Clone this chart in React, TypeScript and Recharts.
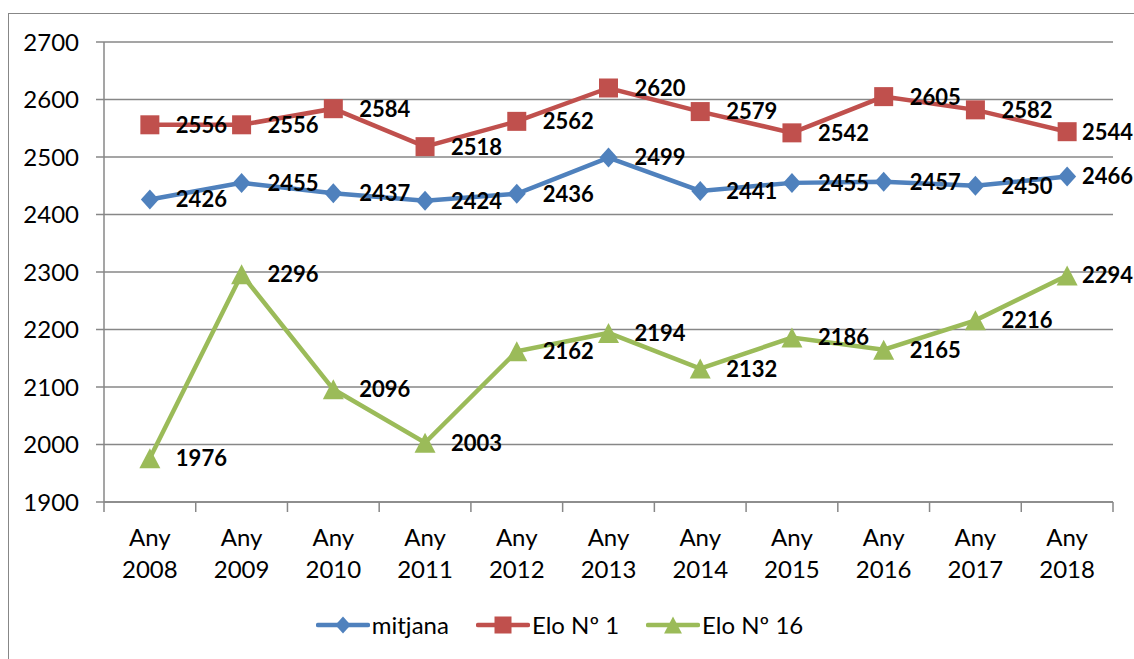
import React from 'react';
import { LineChart, Line, XAxis, YAxis, CartesianGrid, Legend, LabelList } from 'recharts';

const years = ['2008', '2009', '2010', '2011', '2012', '2013', '2014', '2015', '2016', '2017', '2018'];
const mitjana = [2426, 2455, 2437, 2424, 2436, 2499, 2441, 2455, 2457, 2450, 2466];
const elo1 = [2556, 2556, 2584, 2518, 2562, 2620, 2579, 2542, 2605, 2582, 2544];
const elo16 = [1976, 2296, 2096, 2003, 2162, 2194, 2132, 2186, 2165, 2216, 2294];
const yTicks = [1900, 2000, 2100, 2200, 2300, 2400, 2500, 2600, 2700];
const seriesOrder = ['mitjana', 'elo1', 'elo16'];

const data = years.map((year, i) => ({
  year,
  mitjana: mitjana[i],
  elo1: elo1[i],
  elo16: elo16[i],
}));

const BLUE = '#4F81BD';
const RED = '#C0504D';
const GREEN = '#9BBB59';
const GRID = '#878787';
const FONT = 'Lato, Calibri, sans-serif';

const W = 1134;
const H = 659;
const PLOT_LEFT = 104;
const PLOT_RIGHT = 1113;
const BAND = (PLOT_RIGHT - PLOT_LEFT) / years.length;

// marker shapes
const Diamond = ({ cx, cy, fill, s = 10 }: any) => (
  <polygon points={`${cx},${cy - s} ${cx + s * 0.9},${cy} ${cx},${cy + s} ${cx - s * 0.9},${cy}`} fill={fill} />
);
const Square = ({ cx, cy, fill, s = 9.5 }: any) => (
  <rect x={cx - s} y={cy - s} width={s * 2} height={s * 2} fill={fill} />
);
const Triangle = ({ cx, cy, fill, s = 10 }: any) => (
  <polygon points={`${cx},${cy - s} ${cx + s * 1.05},${cy + s} ${cx - s * 1.05},${cy + s}`} fill={fill} />
);

const shapes: Record<string, any> = { mitjana: Diamond, elo1: Square, elo16: Triangle };

const makeDot = (key: string, color: string) => (props: any) => {
  const Shape = shapes[key];
  if (props.cx == null || props.cy == null) return <g key={props.key} />;
  return (
    <g key={`${key}-${props.index}`}>
      <Shape cx={props.cx} cy={props.cy} fill={color} />
    </g>
  );
};

const valueLabel = (props: any) => {
  const { x, y, value, index } = props;
  // keep labels inside the chart on the right edge like Excel does
  const lx = Math.min(x + 26, W - 52);
  return (
    <text
      key={`lbl-${index}`}
      x={lx}
      y={y}
      dy="0.36em"
      textAnchor="start"
      fontFamily={FONT}
      fontSize={22}
      fontWeight="bold"
      fill="#000"
    >
      {value}
    </text>
  );
};

const YearTick = (props: any) => {
  const { x, y, payload, index } = props;
  return (
    <g>
      <line x1={x - BAND / 2} x2={x - BAND / 2} y1={y} y2={y + 10} stroke={GRID} strokeWidth={1.5} />
      {index === years.length - 1 && (
        <line x1={x + BAND / 2} x2={x + BAND / 2} y1={y} y2={y + 10} stroke={GRID} strokeWidth={1.5} />
      )}
      <text x={x} y={y + 44} textAnchor="middle" fontFamily={FONT} fontSize={24} fill="#000">
        Any
      </text>
      <text x={x} y={y + 76} textAnchor="middle" fontFamily={FONT} fontSize={24} fill="#000">
        {payload.value}
      </text>
    </g>
  );
};

const LegendContent = (props: any) => {
  const payload = [...(props.payload || [])].sort(
    (a: any, b: any) => seriesOrder.indexOf(a.dataKey) - seriesOrder.indexOf(b.dataKey)
  );
  return (
    <div style={{ display: 'flex', justifyContent: 'center', alignItems: 'center', paddingRight: 15 }}>
      {payload.map((item: any, i: number) => {
        const Shape = shapes[item.dataKey];
        return (
          <div
            key={item.dataKey}
            style={{ display: 'flex', alignItems: 'center', marginRight: i < payload.length - 1 ? 27 : 0 }}
          >
            <svg width={54} height={24}>
              <line x1={2} x2={52} y1={12} y2={12} stroke={item.color} strokeWidth={4.5} strokeLinecap="round" />
              <Shape cx={27} cy={12} fill={item.color} s={8.5} />
            </svg>
            <span style={{ fontFamily: FONT, fontSize: 24, color: '#000', marginLeft: 2 }}>{item.value}</span>
          </div>
        );
      })}
    </div>
  );
};

export default function App() {
  return (
    <div style={{ position: 'absolute', left: 0, top: 0, width: W, height: H, background: '#fff', overflow: 'hidden' }}>
      <div
        style={{
          position: 'absolute',
          left: 8,
          top: 13,
          width: W + 20,
          height: H + 20,
          border: `1px solid ${GRID}`,
        }}
      />
      <LineChart
        width={W}
        height={H}
        data={data}
        margin={{ top: 42, right: W - PLOT_RIGHT, bottom: 27, left: 0 }}
        style={{ position: 'absolute', left: 0, top: 0 }}
      >
        <CartesianGrid vertical={false} stroke={GRID} strokeWidth={1.5} />
        <XAxis
          dataKey="year"
          height={90}
          interval={0}
          padding={{ left: BAND / 2, right: BAND / 2 }}
          tickLine={false}
          tickSize={0}
          tickMargin={0}
          axisLine={{ stroke: GRID, strokeWidth: 1.5 }}
          tick={<YearTick />}
        />
        <YAxis
          width={PLOT_LEFT}
          domain={[1900, 2700]}
          ticks={yTicks}
          interval={0}
          tickSize={8}
          tickMargin={17}
          axisLine={{ stroke: GRID, strokeWidth: 1.5 }}
          tickLine={{ stroke: GRID, strokeWidth: 1.5 }}
          tick={{ fill: '#000', fontSize: 24, fontFamily: FONT }}
        />
        <Legend height={40} verticalAlign="bottom" wrapperStyle={{ top: 610, left: 0, width: W }} content={<LegendContent />} />
        <Line
          dataKey="mitjana"
          name="mitjana"
          stroke={BLUE}
          strokeWidth={4.5}
          dot={makeDot('mitjana', BLUE)}
          activeDot={false}
          isAnimationActive={false}
        >
          <LabelList dataKey="mitjana" content={valueLabel} />
        </Line>
        <Line
          dataKey="elo1"
          name="Elo Nº 1"
          stroke={RED}
          strokeWidth={4.5}
          dot={makeDot('elo1', RED)}
          activeDot={false}
          isAnimationActive={false}
        >
          <LabelList dataKey="elo1" content={valueLabel} />
        </Line>
        <Line
          dataKey="elo16"
          name="Elo Nº 16"
          stroke={GREEN}
          strokeWidth={4.5}
          dot={makeDot('elo16', GREEN)}
          activeDot={false}
          isAnimationActive={false}
        >
          <LabelList dataKey="elo16" content={valueLabel} />
        </Line>
      </LineChart>
    </div>
  );
}
